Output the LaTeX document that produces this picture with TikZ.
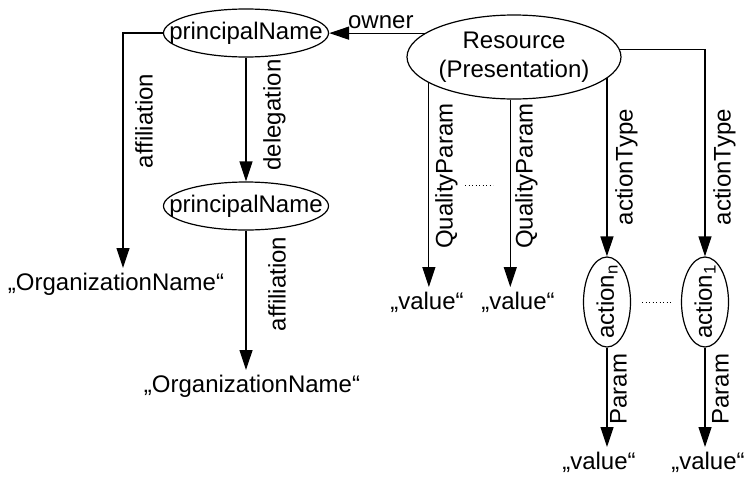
\documentclass[tikz,border=0pt]{standalone}
\usepackage{fontspec}
\setmainfont{Liberation Sans}
\usetikzlibrary{shapes.geometric,arrows.meta}

\tikzset{
  arr/.style={line width=1.2pt, -{Triangle[length=20pt,width=13pt]}},
  ent/.style={draw, ellipse, line width=1.2pt, inner xsep=-25pt, inner ysep=0pt},
  act/.style={draw, ellipse, line width=1.2pt, inner sep=-8pt, minimum width=47pt, minimum height=90pt},
  lit/.style={inner sep=0pt, outer sep=5pt, anchor=north},
  lbl/.style={inner sep=0pt, rotate=90, anchor=north},
  dots/.style={line width=1pt, dash pattern=on 1.3pt off 2.2pt}
}

\begin{document}
\begin{tikzpicture}[x=1pt, y=-1pt, font=\fontsize{24pt}{29pt}\selectfont]
  \useasboundingbox (0,0) rectangle (746,477);

  % principals
  \node[ent, minimum width=165pt, minimum height=48pt] (pn1) at (246,33) {principalName};
  \node[ent, minimum width=165pt, minimum height=48pt] (pn2) at (246,206) {principalName};
  \node[lit] (org1) at (116,268) {„OrganizationName“};
  \node[lit] (org2) at (252,370) {„OrganizationName“};

  % resource and its params
  \node[ent, align=center, minimum width=214pt, minimum height=84pt] (res) at (514,57) {Resource\\(Presentation)};
  \node[lit] (val1) at (427,287) {„value“};
  \node[lit] (val2) at (518,287) {„value“};

  % actions
  \node[act] (actn) at (607,302) {\rotatebox{90}{action\textsubscript{n}}};
  \node[act] (act1) at (705,302) {\rotatebox{90}{action\textsubscript{1}}};
  \node[lit] (val3) at (599,447) {„value“};
  \node[lit] (val4) at (708,447) {„value“};

  % edges
  \draw[arr] (res.165) -- (res.165 -| pn1.east) node[pos=.46, above] (own) {owner};
  \draw[arr] (pn1.west) -| ([xshift=7pt]org1.north);
  \draw[arr] (pn1) -- (pn2);
  \draw[arr] (pn2.south) -- (pn2.south |- org2.north);
  \draw[arr] (res.197) -- (res.197 |- val1.north);
  \draw[arr] (res.265) -- (res.265 |- val2.north);
  \draw[arr] (res.347) -- (res.347 |- actn.north);
  \draw[arr] (res.4) -| (act1);
  \draw[arr] (actn) -- (actn |- val3.north);
  \draw[arr] (act1) -- (act1 |- val4.north);

  % edge labels
  \node[lbl] (aff1) at (135,121) {affiliation};
  \node[lbl] (del) at (263,115) {delegation};
  \node[lbl] (aff2) at (268,284) {affiliation};
  \node[lbl] (qp1) at (435,176) {QualityParam};
  \node[lbl] (qp2) at (515,176) {QualityParam};
  \node[lbl] (at1) at (615,167) {actionType};
  \node[lbl] (at2) at (713,167) {actionType};
  \node[lbl] (par1) at (610,389) {Param};
  \node[lbl] (par2) at (712,389) {Param};

  \draw[dots] (465,185) -- (493,185);
  \draw[dots, shorten <=11pt, shorten >=9pt] (actn) -- (act1);
\end{tikzpicture}
\end{document}
